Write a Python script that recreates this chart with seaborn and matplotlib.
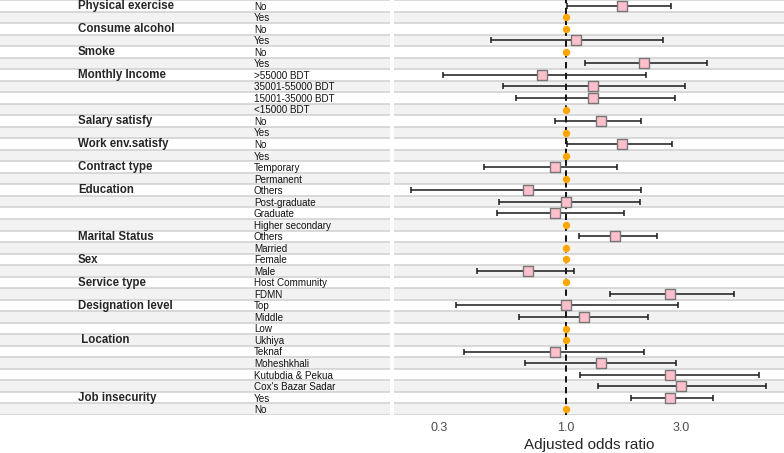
import numpy as np
import pandas as pd
import seaborn as sns
import matplotlib.pyplot as plt

sns.set_style("white")
plt.rcParams['font.family'] = ['Liberation Sans', 'DejaVu Sans']

# Variables (group label on first level only), levels, adjusted odds ratios and 95% CI
groups = ["Physical exercise", "", "Consume alcohol", "", "Smoke", "",
          "Monthly Income", "", "", "", "Salary satisfy", "", "Work env.satisfy", "",
          "Contract type", "", "Education", "", "", "", "Marital Status", "",
          "Sex", "", "Service type", "", "Designation level", "", "",
          " Location", "", "", "", "", "Job insecurity", ""]
levels = ["No", "Yes", "No", "Yes", "No", "Yes",
          ">55000 BDT", "35001-55000 BDT", "15001-35000 BDT", "<15000 BDT",
          "No", "Yes", "No", "Yes", "Temporary", "Permanent",
          "Others", "Post-graduate", "Graduate", "Higher secondary",
          "Others", "Married", "Female", "Male", "Host Community", "FDMN",
          "Top", "Middle", "Low", "Ukhiya", "Teknaf", "Moheshkhali",
          "Kutubdia & Pekua", "Cox's Bazar Sadar", "Yes", "No"]
is_ref = [False, True, True, False, True, False,
          False, False, False, True, False, True, False, True, False, True,
          False, False, False, True, False, True, True, False, True, False,
          False, False, True, True, False, False, False, False, False, True]
aor = [1.70, 1, 1, 1.10, 1, 2.10,
       0.80, 1.30, 1.30, 1, 1.40, 1, 1.70, 1, 0.90, 1,
       0.70, 1.00, 0.90, 1, 1.60, 1, 1, 0.70, 1, 2.70,
       1.00, 1.19, 1, 1, 0.90, 1.39, 2.70, 3.00, 2.70, 1]
ci_low = [1.01, np.nan, np.nan, 0.49, np.nan, 1.20,
          0.31, 0.55, 0.62, np.nan, 0.90, np.nan, 1.01, np.nan, 0.46, np.nan,
          0.23, 0.53, 0.52, np.nan, 1.13, np.nan, np.nan, 0.43, np.nan, 1.52,
          0.35, 0.64, np.nan, np.nan, 0.38, 0.68, 1.14, 1.36, 1.85, np.nan]
ci_high = [2.71, np.nan, np.nan, 2.53, np.nan, 3.82,
           2.15, 3.11, 2.83, np.nan, 2.05, np.nan, 2.75, np.nan, 1.62, np.nan,
           2.05, 2.02, 1.73, np.nan, 2.38, np.nan, np.nan, 1.08, np.nan, 4.96,
           2.90, 2.18, np.nan, np.nan, 2.10, 2.84, 6.27, 6.72, 4.05, np.nan]

df = pd.DataFrame({"group": groups, "level": levels, "ref": is_ref,
                   "aor": aor, "lo": ci_low, "hi": ci_high})
df["row"] = np.arange(len(df))
n = len(df)

fig = plt.figure(figsize=(7.84, 4.53), dpi=100)
ax_l = fig.add_axes([0, 0.084, 390 / 784, 0.916])
ax_r = fig.add_axes([394 / 784, 0.084, 390 / 784, 0.916])

# striped rows in both panels
for ax in (ax_l, ax_r):
    for i in range(n):
        if i % 2 == 1:
            ax.axhspan(i - 0.5, i + 0.5, color="#f2f2f2", lw=0, zorder=0)
        ax.axhline(i - 0.5, color="#d0d0d0", lw=1.1, zorder=1)
    ax.axhline(n - 0.5, color="#d0d0d0", lw=1.1, zorder=1)
    ax.set_ylim(n - 0.5, -0.5)
    ax.set_yticks([])
    ax.set_ylabel("")
    sns.despine(ax=ax, left=True, bottom=True)

# left panel: labels
ax_l.set_xlim(0, 1)
ax_l.set_xticks([])
for _, r in df.iterrows():
    if r["group"]:
        ax_l.text(0.2, r["row"] + 0.02, r["group"], fontsize=8.3, fontweight="bold",
                  va="center", ha="left")
    ax_l.text(0.651, r["row"] + 0.08, r["level"], fontsize=7.1, va="center", ha="left",
              color="#111111")

# right panel: forest plot
ax_r.set_xscale("log")
ax_r.set_xlim(0.195, 7.96)
ax_r.axvline(1, color="black", ls=(0, (3.5, 2.5)), lw=1.3, zorder=2)

est = df[~df["ref"]]
ref = df[df["ref"]]
ax_r.errorbar(est["aor"], est["row"],
              xerr=[est["aor"] - est["lo"], est["hi"] - est["aor"]],
              fmt="none", ecolor="#1a1a1a", elinewidth=1.1, capsize=2.4,
              capthick=1.1, zorder=3)
sns.scatterplot(data=est, x="aor", y="row", marker="s", s=52, color="pink",
                edgecolor="#777777", linewidth=1, ax=ax_r, zorder=4)
sns.scatterplot(data=ref, x="aor", y="row", marker="o", s=28, color="orange",
                edgecolor="orange", linewidth=0, ax=ax_r, zorder=4)

ax_r.set_ylim(n - 0.5, -0.5)
ax_r.set_yticks([])
ax_r.set_ylabel("")
ax_r.set_xticks([0.3, 1.0, 3.0])
ax_r.set_xticklabels(["0.3", "1.0", "3.0"])
ax_r.xaxis.set_minor_locator(plt.NullLocator())
ax_r.tick_params(axis="x", length=0, pad=5, labelsize=9, labelcolor="#4d4d4d")
ax_r.set_xlabel("Adjusted odds ratio", fontsize=11, labelpad=3)

fig.savefig("out.png", dpi=100)
